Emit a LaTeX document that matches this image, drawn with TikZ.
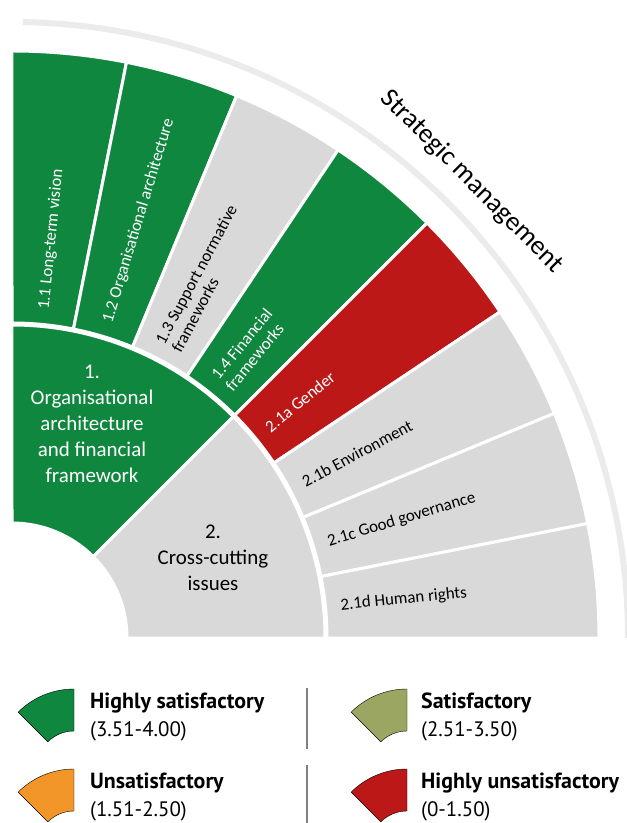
\documentclass[tikz,border=0pt]{standalone}
\usepackage{fontspec}
\setmainfont{Carlito}
\newfontfamily\legendfont{PT Sans}
\usepackage{xcolor}
\usepackage{tikz}
\usetikzlibrary{positioning}
\definecolor{hsgreen}{HTML}{10873F}
\definecolor{sgreen}{HTML}{9CA663}
\definecolor{uorange}{HTML}{F2962A}
\definecolor{hured}{HTML}{BC1818}
\definecolor{nagrey}{HTML}{D9D9D9}
\definecolor{arcgrey}{HTML}{EBEBEB}
\definecolor{rulegrey}{HTML}{808080}
\tikzstyle{sector} = [draw=white, line width=3bp]
\tikzstyle{ring_head} = [align=center, inner sep=0pt, font=\fontsize{21}{26}\selectfont]
\tikzstyle{ring_label} = [anchor=west, align=left, inner sep=0pt, font=\fontsize{17}{18.5}\selectfont]
\tikzstyle{legend_head} = [anchor=base west, inner sep=0pt, font=\legendfont\bfseries\fontsize{22}{24}\selectfont]
\tikzstyle{legend_range} = [anchor=base west, inner sep=0pt, font=\legendfont\fontsize{21}{24}\selectfont]
\newcommand*{\ringsector}[5]{%
  \filldraw[#5] (#1:#3) arc[start angle=#1, end angle=#2, radius=#3bp] -- (#2:#4) arc[start angle=#2, end angle=#1, radius=#4bp] -- cycle;}

\begin{document}
\begin{tikzpicture}[x=1bp, y=1bp]
  \useasboundingbox (-12,-185) rectangle (615,638);

  % Outer Arc
  \draw[arcgrey, line width=6bp] (89:616) arc[start angle=89, end angle=0, radius=616bp];
  \node[rotate=-45, inner sep=0pt, font=\fontsize{27}{30}\selectfont] (strategic_management) at (44.8:648) {Strategic management};

  % Inner Ring
  \ringsector{90}{45}{115}{313}{sector, fill=hsgreen}
  \ringsector{45}{0}{115}{313}{sector, fill=nagrey}
  \node[ring_head, white] (ring_one) at (80,214) {1.\\Organisational\\architecture\\and financial\\framework};
  \node[ring_head] (ring_two) at (201,80) {2.\\Cross-cutting\\issues};

  % Outer Ring
  \ringsector{90}{78.75}{315}{587}{sector, fill=hsgreen}
  \ringsector{78.75}{67.5}{315}{587}{sector, fill=hsgreen}
  \ringsector{67.5}{56.25}{315}{587}{sector, fill=nagrey}
  \ringsector{56.25}{45}{315}{587}{sector, fill=hsgreen}
  \ringsector{45}{33.75}{315}{587}{sector, fill=hured}
  \ringsector{33.75}{22.5}{315}{587}{sector, fill=nagrey}
  \ringsector{22.5}{11.25}{315}{587}{sector, fill=nagrey}
  \ringsector{11.25}{0}{315}{587}{sector, fill=nagrey}

  \node[ring_label, white, rotate=84.375] (long_term) at (84.375:330) {1.1 Long-term vision};
  \node[ring_label, white, rotate=73.125] (org_arch) at (73.125:330) {1.2 Organisational architecture};
  \node[ring_label, rotate=61.875] (support_norm) at (61.875:330) {1.3 Support normative\\frameworks};
  \node[ring_label, white, rotate=50.625] (fin_frame) at (50.625:330) {1.4 Financial\\frameworks};
  \node[ring_label, white, rotate=39.375] (gender) at (39.375:330) {2.1a Gender};
  \node[ring_label, rotate=28.125] (environment) at (28.125:330) {2.1b Environment};
  \node[ring_label, rotate=16.875] (governance) at (16.875:330) {2.1c Good governance};
  \node[ring_label, rotate=5.625] (human_rights) at (5.625:330) {2.1d Human rights};

  % Legend
  \begin{scope}[shift={(62,-130)}]
    \ringsector{90}{135}{37}{79}{fill=hsgreen}
  \end{scope}
  \begin{scope}[shift={(395,-130)}]
    \ringsector{90}{135}{37}{79}{fill=sgreen}
  \end{scope}
  \begin{scope}[shift={(62,-210)}]
    \ringsector{90}{135}{37}{79}{fill=uorange}
  \end{scope}
  \begin{scope}[shift={(395,-210)}]
    \ringsector{90}{135}{37}{79}{fill=hured}
  \end{scope}

  \draw[rulegrey, line width=1.5bp] (295,-50) -- (295,-111);
  \draw[rulegrey, line width=1.5bp] (295,-127) -- (295,-185);

  \node[legend_head] (highly_sat) at (78,-70) {Highly satisfactory};
  \node[legend_range] (highly_sat_range) at (78,-98) {(3.51-4.00)};
  \node[legend_head] (sat) at (409,-70) {Satisfactory};
  \node[legend_range] (sat_range) at (409,-98) {(2.51-3.50)};
  \node[legend_head] (unsat) at (78,-150) {Unsatisfactory};
  \node[legend_range] (unsat_range) at (78,-178) {(1.51-2.50)};
  \node[legend_head] (highly_unsat) at (409,-150) {Highly unsatisfactory};
  \node[legend_range] (highly_unsat_range) at (409,-178) {(0-1.50)};

\end{tikzpicture}
\end{document}
